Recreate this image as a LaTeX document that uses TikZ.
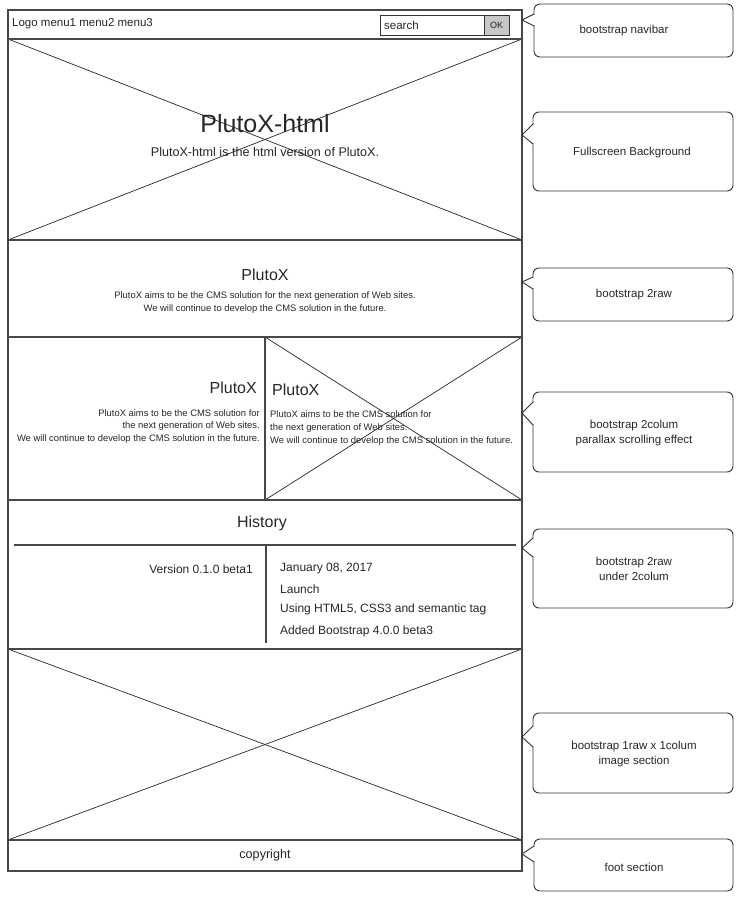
\documentclass[tikz,border=0pt]{standalone}
\usepackage{fontspec}
\setmainfont{Liberation Sans}
\newcommand\mycallout[7]{% x1 y1 x2 y2 ya yb ty
  \draw[cframe, rounded corners=6] (#1,#2) rectangle (#3,#4);
  \fill[white] (#1-1.5,#5+1) rectangle (#1+1.5,#6-1);
  \draw[cframe, line join=miter] (#1,#5) -- (522,#7) -- (#1,#6);
}
\begin{document}
\begin{tikzpicture}[x=1pt,y=-1pt,
  frame/.style={draw=black!72, line width=1.2pt},
  xline/.style={draw=black!85, line width=0.7pt},
  cframe/.style={draw=black!80, line width=0.9pt},
  txt/.style={inner sep=0pt, text=black!85},
  fnav/.style={txt, font=\fontsize{11.5}{13}\selectfont},
  ftitle/.style={txt, font=\fontsize{25}{28}\selectfont},
  fsub/.style={txt, font=\fontsize{12.6}{14}\selectfont},
  fhead/.style={txt, font=\fontsize{16}{18}\selectfont},
  fsmall/.style={txt, font=\fontsize{9.4}{12.8}\selectfont},
  fhist/.style={txt, font=\fontsize{12}{14}\selectfont},
  fcall/.style={txt, align=center, font=\fontsize{11.5}{15.5}\selectfont}
]
\useasboundingbox (0,0) rectangle (742,899);

% ---- X placeholders
\draw[xline] (8,39) -- (522,240);
\draw[xline] (8,240) -- (522,39);
\draw[xline] (265,337) -- (522,500);
\draw[xline] (265,500) -- (522,337);
\draw[xline] (8,649) -- (522,840);
\draw[xline] (8,840) -- (522,649);

% ---- frames
\draw[frame] (8,10) rectangle (522,39);
\draw[frame] (8,39) rectangle (522,240);
\draw[frame] (8,240) rectangle (522,337);
\draw[frame] (8,337) rectangle (265,500);
\draw[frame] (265,337) rectangle (522,500);
\draw[frame] (8,500) rectangle (522,649);
\draw[frame] (8,649) rectangle (522,840);
\draw[frame] (8,840) rectangle (522,871);

% ---- navbar
\node[fnav, anchor=west] (logo) at (12,24) {Logo menu1 menu2 menu3};
\draw[draw=black!80, line width=0.8pt] (380,15) rectangle (484,35);
\draw[draw=black!80, line width=0.8pt, fill=black!22] (484,15) rectangle (509,35);
\node[fnav, anchor=west] (search) at (384,25) {search};
\node[txt, font=\fontsize{9}{10}\selectfont] (ok) at (496.5,25) {OK};

% ---- hero
\node[ftitle] (title) at (265,124) {PlutoX-html};
\node[fsub] (sub) at (265,152) {PlutoX-html is the html version of PlutoX.};

% ---- 2raw
\node[fhead] (h2) at (265,275) {PlutoX};
\node[fsmall, align=center] (t2) at (265,302.5) {PlutoX aims to be the CMS solution for the next generation of Web sites.\\We will continue to develop the CMS solution in the future.};

% ---- 2colum
\node[fhead, anchor=east] (hl) at (257,388) {PlutoX};
\node[fhead, anchor=west] (hr) at (272,390) {PlutoX};
\node[fsmall, align=right, anchor=east] (tl) at (260,426.5) {PlutoX aims to be the CMS solution for\\the next generation of Web sites.\\We will continue to develop the CMS solution in the future.};
\node[fsmall, align=left, anchor=west] (tr) at (270,428) {PlutoX aims to be the CMS solution for\\the next generation of Web sites.\\We will continue to develop the CMS solution in the future.};

% ---- history
\node[fhead] (hist) at (262,523) {History};
\coordinate (hl1) at (14,545);
\coordinate (hl2) at (516,545);
\draw[frame] (hl1) -- (hl2);
\coordinate (vl1) at (266,545);
\coordinate (vl2) at (266,643);
\draw[frame] (vl1) -- (vl2);
\node[fhist, anchor=east] (ver) at (253,569) {Version 0.1.0 beta1};
\node[fhist, anchor=west] (r1) at (280,569) {January 08, 2017};
\node[fhist, anchor=west] (r2) at (280,589) {Launch};
\node[fhist, anchor=west] (r3) at (280,609) {Using HTML5, CSS3 and semantic tag};
\node[fhist, anchor=west] (r4) at (280,631) {Added Bootstrap 4.0.0 beta3};

% ---- footer
\node[fsub] (copy) at (265,855) {copyright};

% ---- callouts
\mycallout{534}{4}{733}{57}{14}{26}{20}
\node[fcall] (c1) at (624,31) {bootstrap navibar};
\mycallout{533}{112}{733}{191}{124}{144}{135}
\node[fcall] (c2) at (632,153) {Fullscreen Background};
\mycallout{533}{268}{733}{321}{277}{289}{282}
\node[fcall] (c3) at (634,295) {bootstrap 2raw};
\mycallout{533}{392}{733}{472}{402}{425}{413}
\node[fcall] (c4) at (634,433) {bootstrap 2colum\\parallax scrolling effect};
\mycallout{533}{529}{733}{608}{538}{557}{548}
\node[fcall] (c5) at (634,569) {bootstrap 2raw\\under 2colum};
\mycallout{533}{713}{733}{793}{726}{747}{737}
\node[fcall] (c6) at (634,754) {bootstrap 1raw x 1colum\\image section};
\mycallout{534}{839}{733}{891}{846}{862}{854}
\node[fcall] (c7) at (634,867) {foot section};
\end{tikzpicture}
\end{document}
